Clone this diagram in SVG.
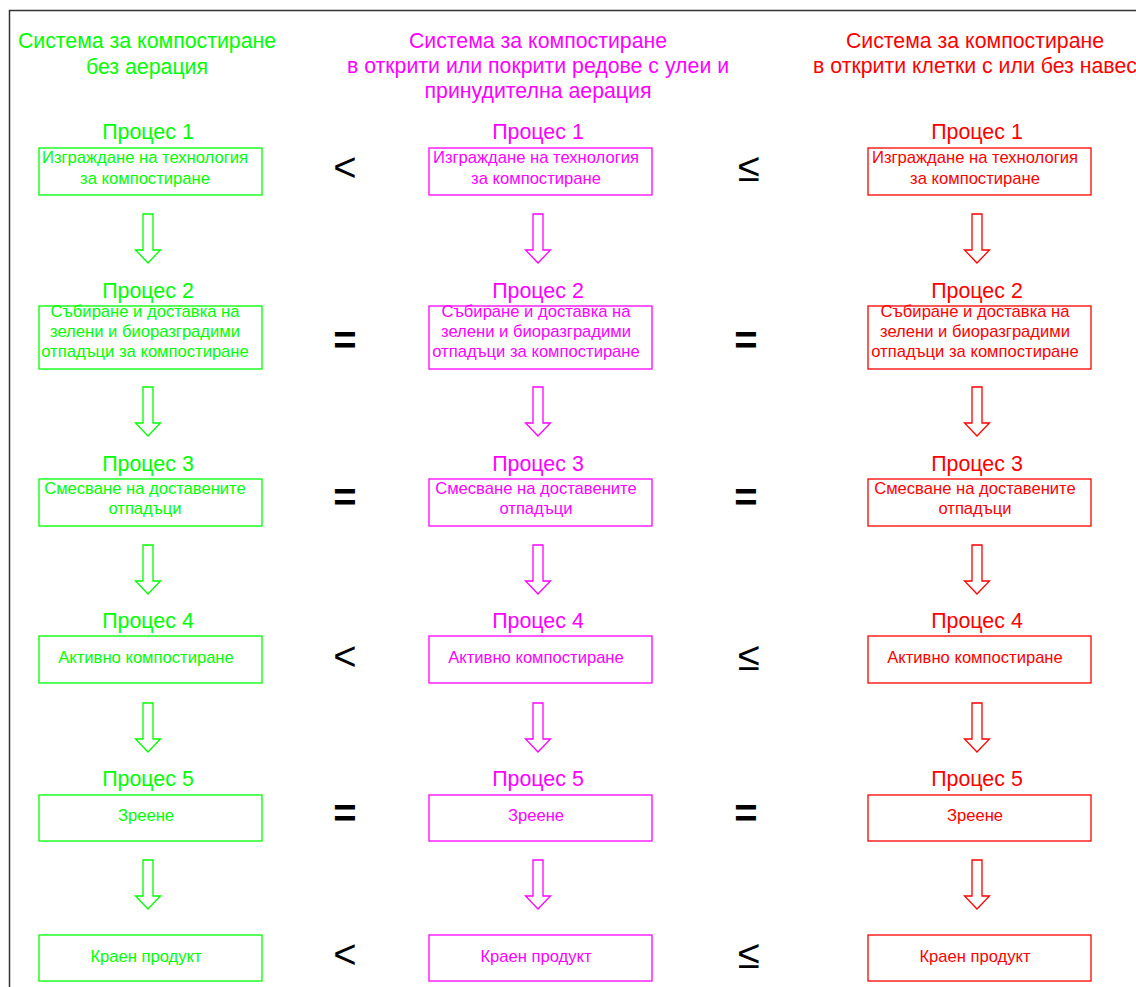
<svg xmlns="http://www.w3.org/2000/svg" width="1136" height="987" viewBox="0 0 1136 987">
<style>
text{font-family:"Liberation Sans",Arial,sans-serif;text-anchor:middle}
.h{font-size:21.3px}
.p{font-size:21.4px}
.b{font-size:16.6px}
.s{font-size:40px;fill:#000}
.g{fill:#00FF00}.m{fill:#FF00FF}.r{fill:#FF0000}
.bg{fill:#fff;stroke:#00FF00;stroke-width:1.3}
.bm{fill:#fff;stroke:#FF00FF;stroke-width:1.3}
.br{fill:#fff;stroke:#FF0000;stroke-width:1.3}
.ag{fill:none;stroke:#00FF00;stroke-width:1.3}
.am{fill:none;stroke:#FF00FF;stroke-width:1.3}
.ar{fill:none;stroke:#FF0000;stroke-width:1.3}
</style>
<defs>
<path id="arr" d="M-5,0 H5 V36 H12.5 L0,49 L-12.5,36 H-5 Z"/>
</defs>
<rect width="1136" height="987" fill="#fff"/>
<path d="M9.5,987 V10.5 H1136" fill="none" stroke="#333" stroke-width="1.5"/>
<g id="headers">
<text class="h g" x="147" y="48">Система за компостиране</text>
<text class="h g" x="147" y="74">без аерация</text>
<text class="h m" x="538" y="48">Система за компостиране</text>
<text class="h m" x="538" y="73">в открити или покрити редове с улеи и</text>
<text class="h m" x="538" y="98">принудителна аерация</text>
<text class="h r" x="975" y="48">Система за компостиране</text>
<text class="h r" x="975" y="73">в открити клетки с или без навес</text>
</g>
<g id="connectors">
<use href="#arr" class="ag" x="148" y="214"/>
<use href="#arr" class="ag" x="148" y="387"/>
<use href="#arr" class="ag" x="148" y="545"/>
<use href="#arr" class="ag" x="148" y="703"/>
<use href="#arr" class="ag" x="148" y="860"/>
<use href="#arr" class="am" x="538" y="214"/>
<use href="#arr" class="am" x="538" y="387"/>
<use href="#arr" class="am" x="538" y="545"/>
<use href="#arr" class="am" x="538" y="703"/>
<use href="#arr" class="am" x="538" y="860"/>
<use href="#arr" class="ar" x="977" y="214"/>
<use href="#arr" class="ar" x="977" y="387"/>
<use href="#arr" class="ar" x="977" y="545"/>
<use href="#arr" class="ar" x="977" y="703"/>
<use href="#arr" class="ar" x="977" y="860"/>
</g>
<g id="symbols">
<text class="s" x="345" y="181">&lt;</text>
<text class="s" x="749" y="181">≤</text>
<text class="s" x="345" y="354" font-weight="bold">=</text>
<text class="s" x="746" y="354" font-weight="bold">=</text>
<text class="s" x="345" y="511" font-weight="bold">=</text>
<text class="s" x="746" y="511" font-weight="bold">=</text>
<text class="s" x="345" y="670">&lt;</text>
<text class="s" x="749" y="670">≤</text>
<text class="s" x="345" y="827" font-weight="bold">=</text>
<text class="s" x="746" y="827" font-weight="bold">=</text>
<text class="s" x="345" y="968">&lt;</text>
<text class="s" x="749" y="968">≤</text>
</g>
<!-- left column -->
<g id="g1"><text class="p g" x="148" y="139">Процес 1</text><rect class="bg" x="39" y="148" width="223" height="47"/><text class="b g" x="145" y="163">Изграждане на технология</text><text class="b g" x="145" y="184">за компостиране</text></g>
<g id="g2"><text class="p g" x="148" y="298">Процес 2</text><rect class="bg" x="39" y="306" width="223" height="63"/><text class="b g" x="145" y="317">Събиране и доставка на</text><text class="b g" x="145" y="337">зелени и биоразградими</text><text class="b g" x="145" y="357">отпадъци за компостиране</text></g>
<g id="g3"><text class="p g" x="148" y="471">Процес 3</text><rect class="bg" x="39" y="479" width="223" height="47"/><text class="b g" x="145" y="494">Смесване на доставените</text><text class="b g" x="145" y="514">отпадъци</text></g>
<g id="g4"><text class="p g" x="148" y="628">Процес 4</text><rect class="bg" x="39" y="636" width="223" height="47"/><text class="b g" x="146" y="663">Активно компостиране</text></g>
<g id="g5"><text class="p g" x="148" y="786">Процес 5</text><rect class="bg" x="39" y="795" width="223" height="46"/><text class="b g" x="146" y="821">Зреене</text></g>
<g id="g6"><rect class="bg" x="39" y="935" width="223" height="46"/><text class="b g" x="146" y="962">Краен продукт</text></g>
<!-- middle column -->
<g id="m1"><text class="p m" x="538" y="139">Процес 1</text><rect class="bm" x="429" y="148" width="223" height="47"/><text class="b m" x="536" y="163">Изграждане на технология</text><text class="b m" x="536" y="184">за компостиране</text></g>
<g id="m2"><text class="p m" x="538" y="298">Процес 2</text><rect class="bm" x="429" y="306" width="223" height="63"/><text class="b m" x="536" y="317">Събиране и доставка на</text><text class="b m" x="536" y="337">зелени и биоразградими</text><text class="b m" x="536" y="357">отпадъци за компостиране</text></g>
<g id="m3"><text class="p m" x="538" y="471">Процес 3</text><rect class="bm" x="429" y="479" width="223" height="47"/><text class="b m" x="536" y="494">Смесване на доставените</text><text class="b m" x="536" y="514">отпадъци</text></g>
<g id="m4"><text class="p m" x="538" y="628">Процес 4</text><rect class="bm" x="429" y="636" width="223" height="47"/><text class="b m" x="536" y="663">Активно компостиране</text></g>
<g id="m5"><text class="p m" x="538" y="786">Процес 5</text><rect class="bm" x="429" y="795" width="223" height="46"/><text class="b m" x="536" y="821">Зреене</text></g>
<g id="m6"><rect class="bm" x="429" y="935" width="223" height="46"/><text class="b m" x="536" y="962">Краен продукт</text></g>
<!-- right column -->
<g id="r1"><text class="p r" x="977" y="139">Процес 1</text><rect class="br" x="868" y="148" width="223" height="47"/><text class="b r" x="975" y="163">Изграждане на технология</text><text class="b r" x="975" y="184">за компостиране</text></g>
<g id="r2"><text class="p r" x="977" y="298">Процес 2</text><rect class="br" x="868" y="306" width="223" height="63"/><text class="b r" x="975" y="317">Събиране и доставка на</text><text class="b r" x="975" y="337">зелени и биоразградими</text><text class="b r" x="975" y="357">отпадъци за компостиране</text></g>
<g id="r3"><text class="p r" x="977" y="471">Процес 3</text><rect class="br" x="868" y="479" width="223" height="47"/><text class="b r" x="975" y="494">Смесване на доставените</text><text class="b r" x="975" y="514">отпадъци</text></g>
<g id="r4"><text class="p r" x="977" y="628">Процес 4</text><rect class="br" x="868" y="636" width="223" height="47"/><text class="b r" x="975" y="663">Активно компостиране</text></g>
<g id="r5"><text class="p r" x="977" y="786">Процес 5</text><rect class="br" x="868" y="795" width="223" height="46"/><text class="b r" x="975" y="821">Зреене</text></g>
<g id="r6"><rect class="br" x="868" y="935" width="223" height="46"/><text class="b r" x="975" y="962">Краен продукт</text></g>
</svg>
